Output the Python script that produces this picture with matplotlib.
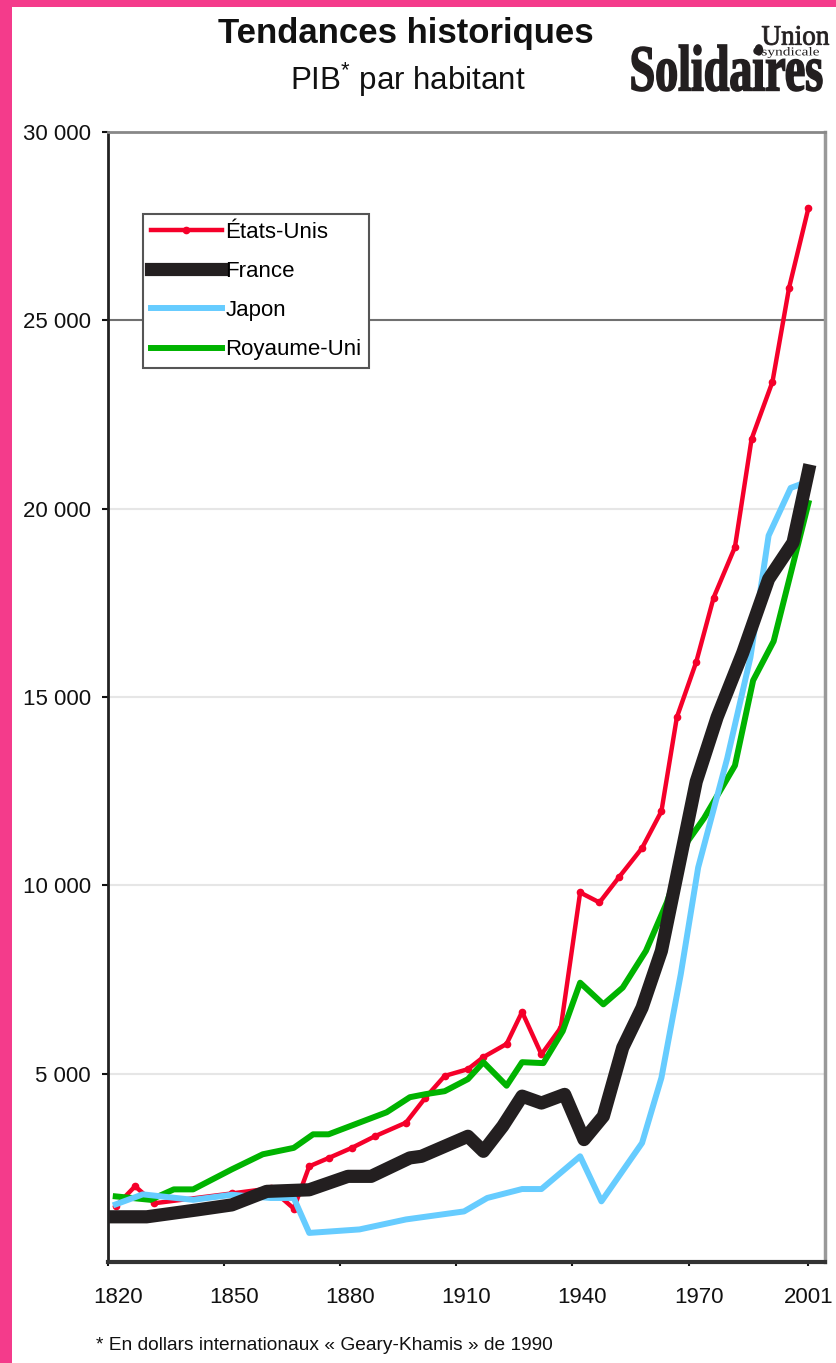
import matplotlib
matplotlib.use("Agg")
import matplotlib.pyplot as plt
from matplotlib.textpath import TextPath
from matplotlib.patches import PathPatch, Rectangle, Circle
from matplotlib.font_manager import FontProperties
from matplotlib.transforms import Affine2D, ScaledTranslation
from matplotlib.ticker import FuncFormatter

plt.rcParams['font.family'] = ['Liberation Sans', 'DejaVu Sans']
plt.rcParams['mathtext.fontset'] = 'custom'
plt.rcParams['mathtext.rm'] = 'Liberation Sans'
plt.rcParams['mathtext.it'] = 'Liberation Sans:italic'
plt.rcParams['mathtext.bf'] = 'Liberation Sans:bold'

# PIB par habitant (dollars GK 1990)
usa_years = [1822, 1827, 1832, 1852, 1862, 1868, 1872, 1877, 1883, 1889, 1897, 1902,
             1907, 1913, 1917, 1923, 1927, 1932, 1937, 1942, 1947, 1952, 1958, 1963,
             1967, 1972, 1976.5, 1982, 1986.3, 1991.7, 1996, 2001]
usa_gdp = [1480, 2010, 1560, 1820, 1955, 1420, 2540, 2760, 3030, 3340, 3700, 4360,
           4940, 5120, 5440, 5790, 6640, 5510, 6220, 9810, 9545, 10210, 10990, 11965,
           14465, 15930, 17640, 18980, 21850, 23370, 25870, 27985]

france_years = [1822, 1830, 1843, 1852, 1861, 1872, 1882, 1888, 1898, 1901, 1913, 1917,
                1922, 1927, 1932, 1938, 1943, 1948, 1953, 1958, 1963, 1972, 1977.4,
                1984, 1990.7, 1997, 2001]
france_gdp = [1200, 1200, 1383, 1516, 1875, 1917, 2274, 2274, 2764, 2806, 3338, 2939,
              3605, 4403, 4220, 4450, 3250, 3870, 5690, 6750, 8260, 12755, 14465,
              16170, 18130, 19100, 21000]

japan_years = [1822, 1829, 1842, 1852, 1862, 1868, 1872, 1885, 1897, 1912, 1918, 1927,
               1932, 1942, 1947.5, 1958, 1963, 1968, 1972.5, 1980, 1986, 1990.7, 1996.4,
               1999]
japan_gdp = [1530, 1796, 1650, 1785, 1700, 1700, 772, 865, 1130, 1343, 1700, 1937,
             1937, 2806, 1610, 3160, 4890, 7640, 10475, 13370, 16050, 19285, 20550,
             20650]

uk_years = [1822, 1831, 1837, 1842, 1852, 1860, 1868, 1873, 1877, 1892, 1898, 1902,
            1907, 1913, 1917, 1923, 1927, 1932.5, 1937.5, 1942, 1948, 1953, 1959, 1964.4,
            1969.8, 1974, 1982, 1986.7, 1992, 2001]
uk_gdp = [1742, 1650, 1928, 1928, 2460, 2860, 3030, 3390, 3390, 3975, 4375, 4455,
          4535, 4855, 5305, 4680, 5305, 5280, 6130, 7415, 6840, 7285, 8260, 9545,
          11170, 11780, 13180, 15440, 16480, 20150]

x_ticks = [1820, 1850, 1880, 1910, 1940, 1970, 2001]
x_labels = ['1820', '1850', '1880', '1910', '1940', '1970', '2001']
y_ticks = [5000, 10000, 15000, 20000, 25000, 30000]

W, H = 836, 1363
fig = plt.figure(figsize=(W / 100, H / 100), dpi=100)
fig.patch.set_facecolor('white')

ax = fig.add_axes([108 / W, 101 / H, 717 / W, 1130 / H])
ax.set_xlim(1820, 1820 + 717 / 3.87)
ax.set_ylim(0, 30000)

# grid lines (25 000 is darker in the original)
for v in [5000, 10000, 15000, 20000]:
    ax.axhline(v, color='#e6e6e6', lw=1.5, zorder=0)
ax.axhline(25000, color='#707070', lw=1.5, zorder=0)

ax.plot(usa_years, usa_gdp, color='#F5002A', lw=3.2, marker='o', markersize=4.5,
        label='États-Unis', zorder=2)
ax.plot(france_years, france_gdp, color='#231F20', lw=9.5, label='France', zorder=5)
ax.plot(japan_years, japan_gdp, color='#66CCFF', lw=4.3, label='Japon', zorder=4)
ax.plot(uk_years, uk_gdp, color='#00B300', lw=4.3, label='Royaume-Uni', zorder=3)

ax.spines['left'].set_color('#222222')
ax.spines['left'].set_linewidth(2)
ax.spines['bottom'].set_color('#333333')
ax.spines['bottom'].set_linewidth(3)
ax.spines['top'].set_color('#888888')
ax.spines['top'].set_linewidth(2)
ax.spines['right'].set_color('#999999')
ax.spines['right'].set_linewidth(2.5)

ax.set_yticks(y_ticks)
ax.yaxis.set_major_formatter(FuncFormatter(lambda v, p: f"{int(v):,}".replace(",", " ")))
ax.set_xticks(x_ticks)
ax.set_xticklabels(x_labels)
ax.tick_params(axis='y', length=4.5, width=1.5, pad=8, labelsize=16, colors='#111111')
ax.tick_params(axis='x', length=3, width=1.5, pad=15, labelsize=16, colors='#111111')
# labels sit a bit right of their ticks in the original
xlabs = ax.get_xticklabels()
for i, lab in enumerate(xlabs):
    dx = 0.1 if i < len(xlabs) - 1 else 0.0
    lab.set_transform(lab.get_transform() + ScaledTranslation(dx, 0, fig.dpi_scale_trans))

leg = ax.legend(loc='upper left', bbox_to_anchor=(35 / 717, (1262 - 214) / 1130),
                fontsize=16, frameon=True, fancybox=False, edgecolor='#555555',
                framealpha=1, handlelength=3.2, handletextpad=0.15, labelspacing=0.82,
                borderpad=0.35, borderaxespad=0, numpoints=1)
leg.get_frame().set_linewidth(1.5)

# titles and footnote
fig.text(406 / W, 1 - 33 / H, 'Tendances historiques', ha='center', va='center',
         fontsize=25, fontweight='bold', color='#111111')
fig.text(408 / W, 1 - 80 / H, r'PIB$^{*}$ par habitant', ha='center', va='center',
         fontsize=22.5, color='#111111')
fig.text(96 / W, 1 - 1345 / H, '* En dollars internationaux « Geary-Khamis » de 1990',
         ha='left', va='center', fontsize=13.8, color='#111111')

# overlay in pixel coordinates: pink frame and logo
ov = fig.add_axes([0, 0, 1, 1], zorder=10)
ov.set_xlim(0, W)
ov.set_ylim(H, 0)
ov.axis('off')
ov.add_patch(Rectangle((0, 0), 12, H, color='#F43B8B', lw=0))
ov.add_patch(Rectangle((0, 0), W, 7, color='#F43B8B', lw=0))


def draw_word(text, x0, x1, y_top, y_bot, prop, lw=0.0):
    tp = TextPath((0, 0), text, size=100, prop=prop)
    bb = tp.get_extents()
    sx = (x1 - x0) / bb.width
    sy = (y_bot - y_top) / bb.height
    tr = Affine2D().translate(-bb.x0, -bb.y0).scale(sx, -sy).translate(x0, y_bot)
    ov.add_patch(PathPatch(tr.transform_path(tp), fc='#231F20', ec='#231F20', lw=lw))


serif_bold = FontProperties(family='Liberation Serif', weight='bold')
serif = FontProperties(family='Liberation Serif')
draw_word('Solidaires', 632, 822, 45, 91, serif_bold, lw=1.2)
draw_word('Union', 762, 829, 26, 45, serif, lw=0.6)
draw_word('syndicale', 762, 819, 47, 58, serif)
ov.add_patch(Circle((757, 51), 3, color='#231F20'))

fig.savefig('out.png', dpi=100)
